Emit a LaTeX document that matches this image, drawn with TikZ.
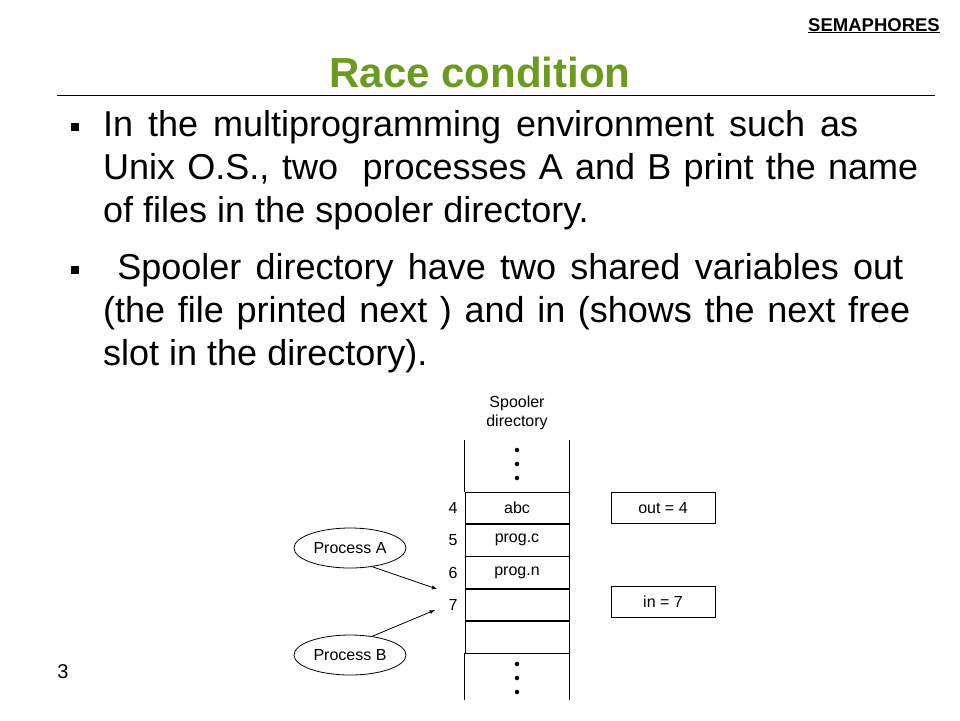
\documentclass[tikz,border=0pt]{standalone}
\usepackage{fontspec}
\setmainfont{Liberation Sans}
\usetikzlibrary{positioning,shapes.geometric}
\definecolor{titlegreen}{HTML}{6A9A1F}
\begin{document}
\begin{tikzpicture}
        [
            x = 1pt, y = -1pt,
            body/.style = {anchor=base west, inner sep=0pt, font=\fontsize{36}{40}\selectfont},
            cell/.style = {draw, thick, minimum width=104pt, minimum height=31.5pt, inner sep=0pt, font=\fontsize{16}{19}\selectfont},
            varbox/.style = {draw, thick, minimum width=104pt, minimum height=31pt, inner sep=0pt, font=\fontsize{16}{19}\selectfont},
            proc/.style = {draw, thick, ellipse, minimum width=112pt, minimum height=40pt, inner sep=0pt, font=\fontsize{16}{19}\selectfont},
            slot/.style = {inner sep=0pt, font=\fontsize{16}{19}\selectfont},
            dotsym/.style = {circle, fill, inner sep=0pt, minimum size=4.5pt},
        ]
        \useasboundingbox (0,0) rectangle (960,720);
        % heading
        \node[anchor=base east, inner sep=0pt, font=\fontsize{18.5}{22}\selectfont\bfseries] (chap) at (940,31) {\underline{SEMAPHORES}};
        \node[inner sep=0pt, font=\fontsize{42}{48}\selectfont\bfseries, text=titlegreen] (title) at (480,72) {Race condition};
        \draw[thick] (57,95) -- (935,95);
        % bullets
        \node[fill, minimum size=7.5pt, inner sep=0pt] (b1) at (75,127) {};
        \node[body] (l1) at (103,136) {\makebox[755pt][s]{In the multiprogramming environment such as}};
        \node[body] (l2) at (103,179) {\makebox[815pt][s]{Unix O.S., two\ \ processes A and B print the name}};
        \node[body] (l3) at (103,222) {of files in the spooler directory.};
        \node[fill, minimum size=7.5pt, inner sep=0pt] (b2) at (75,270) {};
        \node[body] (l4) at (103,279) {\makebox[800pt][s]{\ Spooler directory have two shared variables out}};
        \node[body] (l5) at (103,322) {\makebox[807pt][s]{(the file printed next ) and in (shows the next free}};
        \node[body] (l6) at (103,365) {slot in the directory).};
        \node[font=\fontsize{20}{24}\selectfont, inner sep=0pt] (page) at (63,672) {3};
        % spooler directory
        \node[align=center, slot] (head) at (517,413) {Spooler\\directory};
        \node[cell] (c4) at (517,508) {abc};
        \node[cell, below=0pt of c4] (c5) {prog.c};
        \node[cell, below=0pt of c5] (c6) {prog.n};
        \node[cell, below=0pt of c6] (c7) {};
        \node[cell, below=0pt of c7] (c8) {};
        \draw[thick] (c4.north west) -- ++(0,-52);
        \draw[thick] (c4.north east) -- ++(0,-52);
        \draw[thick] (c8.south west) -- (c8.south west |- 0,700);
        \draw[thick] (c8.south east) -- (c8.south east |- 0,700);
        \foreach \y in {450,464,478,664,678,692}
            \node[dotsym] at (517,\y) {};
        \foreach \n/\c in {4/c4,5/c5,6/c6,7/c7}
            \node[slot, left=7pt of \c] (n\n) {\n};
        % shared variables
        \node[varbox] (out) at (663,508) {out = 4};
        \node[varbox] (in) at (663,602) {in = 7};
        % processes
        \node[proc] (pa) at (350,548) {Process A};
        \node[proc] (pb) at (350,655) {Process B};
        \coordinate (ta) at (437,589);
        \coordinate (tb) at (435,610);
        \draw[thick, -latex] (pa.-40) -- (ta);
        \draw[thick, -latex] (pb.40) -- (tb);
    \end{tikzpicture}
\end{document}
